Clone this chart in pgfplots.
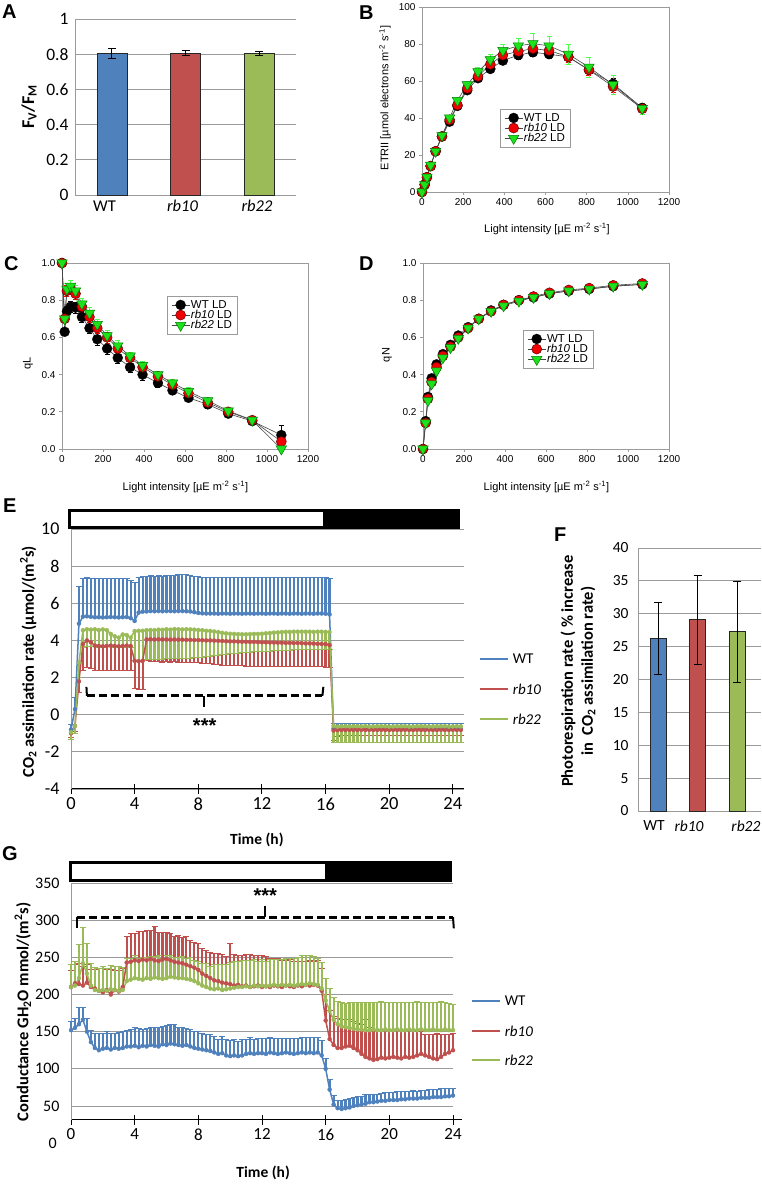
\documentclass[border=0pt]{standalone}
\usepackage{fontspec}
\setmainfont{Carlito}
\newfontfamily\arial{Liberation Sans}
\usepackage{pgfplots}
\usepackage{pgfplotstable}
\pgfplotsset{compat=1.18}

\definecolor{xblue}{RGB}{79,129,189}
\definecolor{xred}{RGB}{192,80,77}
\definecolor{xgreen}{RGB}{155,187,89}
\definecolor{ggray}{RGB}{155,155,155}
\definecolor{spred}{RGB}{240,0,0}
\definecolor{spgreen}{RGB}{30,225,30}
\definecolor{spline}{RGB}{70,70,70}

\newcommand{\fs}[1]{\fontsize{#1}{#1}\selectfont}

\pgfplotsset{
  excel/.style={scale only axis, axis x line*=bottom, axis y line*=left,
    axis line style={draw=ggray, line width=0.9pt},
    major tick length=0pt,
    ymajorgrids, grid style={draw=ggray, line width=0.9pt},
    /pgf/number format/assume math mode=true,
    clip=false},
  ebar/.style={error bars/.cd, y dir=both, y explicit,
    error bar style={black, line width=0.8pt},
    error mark options={rotate=90, mark size=4pt, black, line width=0.8pt}},
  sp/.style={scale only axis, xmin=0, xmax=1200, xtick={0,200,...,1200},
    axis line style={draw=ggray, line width=0.8pt},
    tick style={draw=ggray, line width=0.6pt}, tick align=outside, major tick length=3pt,
    xtick pos=left, ytick pos=left,
    tick label style={font=\arial\fs{10}},
    label style={font=\arial\fs{11}},
    /pgf/number format/assume math mode=true,
    /pgf/number format/1000 sep={},
    legend cell align=left,
    legend image code/.code={\draw[mark repeat=2,mark phase=2,##1] plot coordinates {(0pt,0pt) (9pt,0pt) (18pt,0pt)};},
    legend style={draw=ggray, line width=0.6pt, font=\arial\fs{11.5}, anchor=north west, inner xsep=4pt, inner ysep=3pt, row sep=-1.5pt, nodes={inner sep=1pt}},
    clip=false},
  spwt/.style={draw=spline, line width=0.6pt, mark=*, mark size=5pt, mark options={fill=black, draw=black, line width=0.3pt}},
  spr/.style={draw=spline, line width=0.6pt, mark=*, mark size=5pt, mark options={fill=spred, draw=black!60!red, line width=0.5pt}},
  spg/.style={draw=spline, line width=0.6pt, mark=triangle*, mark size=6pt, mark options={fill=spgreen, draw=black!50!green, line width=0.5pt, rotate=180}},
  speb/.style={error bars/.cd, y dir=both, y explicit, error bar style={#1, line width=0.5pt}, error mark options={rotate=90, mark size=2.5pt, #1, line width=0.5pt}},
}

\pgfplotstableread{
x wt wte r10 r10e r22 r22e
0 0 0.5 0 0.5 0 0.5
13 4 0.6 4 0.6 4 0.6
24 8 0.8 8 0.8 8 0.8
42 14 1 14 1 14.5 1
66 22 1 22 1 22 1.2
97 30 1.2 30 1.2 30.5 1.3
134 38 1.3 39 1.5 40 1.5
172 46.5 1.5 47 1.5 49.5 1.8
220 55 1.5 56 1.8 58 2
272 61.5 1.8 62.5 2 65 2.5
332 66.5 2 69 2.5 71.5 3
393 71 2 74 2.5 76.5 3.5
468 74 2 76 3 79 4
539 75.5 2 77.5 3 80.2 5.5
617 74.5 2 76.5 3 79 5
711 73 2 73 3 74.5 5.3
811 66 2 66 3 67.5 5.4
928 58.5 3 57 3 58 5.3
1070 45.5 2 45 2 45.2 3
}\Bdata

\pgfplotstableread{
x wt wte r10 r10e r22 r22e
0 1.0 0.01 1.0 0.01 1.0 0.01
13 0.63 0.02 0.70 0.02 0.70 0.02
24 0.74 0.03 0.85 0.03 0.86 0.03
42 0.765 0.03 0.86 0.03 0.875 0.03
66 0.76 0.03 0.835 0.03 0.85 0.03
97 0.71 0.03 0.765 0.03 0.78 0.03
134 0.65 0.03 0.71 0.03 0.73 0.03
172 0.59 0.03 0.65 0.03 0.67 0.03
220 0.54 0.03 0.60 0.03 0.61 0.03
272 0.49 0.03 0.54 0.03 0.555 0.03
332 0.44 0.03 0.49 0.03 0.50 0.02
393 0.40 0.03 0.44 0.02 0.45 0.02
468 0.355 0.025 0.39 0.02 0.40 0.02
539 0.315 0.02 0.345 0.02 0.355 0.02
617 0.275 0.02 0.30 0.02 0.31 0.02
711 0.24 0.02 0.25 0.02 0.26 0.015
811 0.19 0.015 0.20 0.015 0.205 0.01
928 0.15 0.01 0.155 0.01 0.155 0.01
1070 0.075 0.05 0.04 0.03 0.0 0.01
}\Cdata

\pgfplotstableread{
x wt wte r10 r10e r22 r22e
0 0 0.005 0 0.005 0 0.005
13 0.15 0.01 0.14 0.01 0.14 0.01
24 0.28 0.01 0.27 0.01 0.26 0.01
42 0.38 0.01 0.36 0.01 0.35 0.01
66 0.455 0.01 0.44 0.01 0.42 0.01
97 0.51 0.01 0.50 0.01 0.49 0.01
134 0.56 0.01 0.55 0.01 0.545 0.01
172 0.61 0.01 0.60 0.01 0.595 0.01
220 0.655 0.01 0.65 0.01 0.65 0.01
272 0.70 0.01 0.70 0.01 0.70 0.01
332 0.745 0.01 0.74 0.01 0.74 0.01
393 0.775 0.01 0.775 0.01 0.77 0.01
468 0.80 0.01 0.80 0.01 0.795 0.01
539 0.815 0.01 0.82 0.01 0.815 0.01
617 0.835 0.01 0.84 0.01 0.835 0.01
711 0.85 0.01 0.855 0.01 0.85 0.01
811 0.86 0.01 0.865 0.01 0.86 0.01
928 0.875 0.01 0.88 0.01 0.875 0.01
1070 0.885 0.01 0.89 0.01 0.885 0.01
}\Ddata

\pgfplotstableread{
t wt wte r10 r10e r22 r22e
0.00 -0.80 0.25 -1.00 0.25 -0.95 0.40
0.25 0.30 0.60 -0.60 0.30 -0.60 0.40
0.50 4.90 2.00 1.80 0.60 2.80 0.80
0.75 5.28 2.05 3.80 1.40 4.55 0.95
1.00 5.30 2.10 4.00 1.45 4.60 0.95
1.25 5.27 2.08 3.90 1.40 4.58 0.92
1.50 5.25 2.10 3.72 1.32 4.60 0.95
1.75 5.25 2.08 3.70 1.30 4.56 0.92
2.00 5.24 2.10 3.68 1.28 4.59 0.95
2.25 5.25 2.06 3.70 1.30 4.55 0.90
2.50 5.26 2.05 3.72 1.32 4.35 0.70
2.75 5.25 2.08 3.70 1.30 4.22 0.60
3.00 5.24 2.10 3.68 1.30 4.15 0.55
3.25 5.25 2.08 3.70 1.32 4.32 0.70
3.50 5.26 2.06 3.72 1.32 4.29 0.65
3.75 5.20 2.05 3.70 1.30 4.15 0.55
4.00 5.05 2.05 2.90 1.50 4.50 1.60
4.25 5.50 1.90 2.88 1.52 4.52 1.62
4.50 5.55 1.90 2.90 1.55 4.52 1.60
4.75 5.56 1.90 4.05 1.15 4.55 1.60
5.00 5.58 1.90 4.06 1.18 4.56 1.60
5.25 5.57 1.88 4.05 1.20 4.55 1.58
5.50 5.58 1.90 4.06 1.20 4.58 1.60
5.75 5.57 1.89 4.05 1.22 4.57 1.58
6.00 5.58 1.90 4.05 1.20 4.60 1.60
6.25 5.58 1.92 4.04 1.22 4.58 1.58
6.50 5.57 1.95 4.05 1.20 4.61 1.60
6.75 5.58 1.97 4.04 1.22 4.60 1.58
7.00 5.58 1.98 4.04 1.22 4.59 1.57
7.25 5.57 1.96 4.03 1.20 4.60 1.57
7.50 5.56 1.93 4.03 1.22 4.59 1.55
7.75 5.52 1.92 4.02 1.22 4.58 1.52
8.00 5.48 1.94 4.02 1.22 4.56 1.48
8.25 5.46 1.94 4.01 1.24 4.55 1.45
8.50 5.45 1.95 4.00 1.25 4.52 1.40
8.75 5.45 1.94 4.00 1.26 4.51 1.36
9.00 5.45 1.95 3.99 1.28 4.48 1.30
9.25 5.44 1.95 3.98 1.28 4.45 1.25
9.50 5.45 1.94 3.97 1.30 4.41 1.18
9.75 5.45 1.95 3.96 1.30 4.38 1.13
10.00 5.44 1.96 3.95 1.30 4.36 1.08
10.25 5.45 1.95 3.95 1.30 4.35 1.05
10.50 5.45 1.94 3.94 1.30 4.34 1.02
10.75 5.44 1.95 3.93 1.30 4.33 1.00
11.00 5.45 1.95 3.93 1.31 4.33 0.98
11.25 5.45 1.94 3.92 1.31 4.34 0.98
11.50 5.44 1.95 3.92 1.31 4.35 0.97
11.75 5.45 1.95 3.91 1.30 4.35 0.96
12.00 5.45 1.94 3.90 1.30 4.36 0.96
12.25 5.44 1.95 3.90 1.30 4.38 0.96
12.50 5.45 1.95 3.89 1.29 4.40 0.97
12.75 5.45 1.94 3.89 1.29 4.42 0.98
13.00 5.44 1.95 3.88 1.28 4.43 0.98
13.25 5.45 1.95 3.88 1.28 4.45 0.99
13.50 5.45 1.94 3.87 1.28 4.46 0.99
13.75 5.44 1.95 3.87 1.27 4.46 0.98
14.00 5.45 1.95 3.86 1.27 4.47 0.98
14.25 5.45 1.94 3.86 1.27 4.47 0.97
14.50 5.44 1.95 3.85 1.26 4.47 0.97
14.75 5.45 1.95 3.84 1.26 4.47 0.96
15.00 5.45 1.94 3.84 1.26 4.47 0.96
15.25 5.44 1.95 3.83 1.25 4.46 0.95
15.50 5.45 1.95 3.82 1.25 4.47 0.95
15.75 5.45 1.94 3.81 1.24 4.47 0.95
16.00 5.44 1.95 3.80 1.24 4.46 0.94
16.25 5.40 1.95 3.75 1.20 4.45 0.95
16.50 -0.74 0.28 -0.85 0.55 -0.60 0.88
16.75 -0.76 0.27 -0.83 0.32 -0.64 0.86
17.00 -0.75 0.28 -0.82 0.30 -0.62 0.90
17.25 -0.76 0.27 -0.82 0.30 -0.62 0.88
17.50 -0.75 0.28 -0.81 0.30 -0.63 0.86
17.75 -0.74 0.27 -0.82 0.30 -0.62 0.89
18.00 -0.75 0.28 -0.82 0.30 -0.62 0.88
18.25 -0.76 0.28 -0.81 0.30 -0.63 0.87
18.50 -0.75 0.27 -0.82 0.30 -0.61 0.88
18.75 -0.74 0.28 -0.81 0.30 -0.64 0.86
19.00 -0.75 0.28 -0.82 0.30 -0.63 0.88
19.25 -0.76 0.27 -0.82 0.30 -0.62 0.88
19.50 -0.75 0.28 -0.81 0.30 -0.62 0.87
19.75 -0.75 0.28 -0.82 0.30 -0.62 0.88
20.00 -0.74 0.27 -0.82 0.30 -0.64 0.86
20.25 -0.75 0.28 -0.81 0.30 -0.63 0.88
20.50 -0.76 0.28 -0.82 0.30 -0.62 0.88
20.75 -0.75 0.27 -0.82 0.30 -0.62 0.87
21.00 -0.75 0.28 -0.81 0.30 -0.62 0.88
21.25 -0.74 0.28 -0.82 0.30 -0.64 0.86
21.50 -0.75 0.27 -0.82 0.30 -0.63 0.88
21.75 -0.76 0.28 -0.81 0.30 -0.62 0.88
22.00 -0.75 0.28 -0.82 0.30 -0.62 0.87
22.25 -0.75 0.27 -0.82 0.30 -0.62 0.88
22.50 -0.74 0.28 -0.81 0.30 -0.64 0.86
22.75 -0.75 0.28 -0.82 0.30 -0.63 0.88
23.00 -0.76 0.27 -0.82 0.30 -0.62 0.88
23.25 -0.75 0.28 -0.81 0.30 -0.62 0.87
23.50 -0.75 0.28 -0.82 0.30 -0.62 0.88
23.75 -0.74 0.27 -0.82 0.30 -0.64 0.86
24.00 -0.75 0.28 -0.81 0.30 -0.63 0.88
24.25 -0.75 0.28 -0.82 0.30 -0.62 0.88
24.50 -0.76 0.27 -0.82 0.30 -0.63 0.87
}\Edata

\pgfplotstableread{
t wt wte r10 r10e r22 r22e
0.00 152 12 210 22 210 30
0.25 155 13 215 25 212 32
0.50 160 22 214 28 222 45
0.75 166 16 212 26 242 48
1.00 150 18 216 25 228 40
1.25 136 16 210 24 212 30
1.50 128 20 208 26 206 30
1.75 125 22 205 30 205 30
2.00 127 20 203 32 206 32
2.25 128 22 206 28 205 30
2.50 126 21 200 34 207 32
2.75 128 20 206 26 206 31
3.00 127 22 204 28 205 33
3.25 128 22 210 25 206 30
3.50 130 22 243 35 218 30
3.75 130 23 244 38 220 28
4.00 131 24 246 36 222 30
4.25 129 25 245 40 221 28
4.50 131 22 247 38 220 30
4.75 130 24 246 40 222 28
5.00 132 23 248 38 221 30
5.25 131 24 246 45 223 28
5.50 130 25 245 38 222 30
5.75 133 24 247 36 221 28
6.00 132 26 248 35 222 30
6.25 134 25 246 36 224 28
6.50 133 26 244 34 223 27
6.75 132 24 243 36 222 28
7.00 131 25 242 34 222 29
7.25 132 22 240 38 221 28
7.50 130 23 238 35 220 30
7.75 128 22 236 34 218 28
8.00 127 23 233 35 215 30
8.25 126 22 228 34 212 30
8.50 125 21 225 34 210 32
8.75 124 22 222 35 208 30
9.00 122 22 219 36 207 33
9.25 120 20 218 37 208 32
9.50 121 22 216 38 206 34
9.75 118 22 215 36 207 33
10.00 117 21 214 55 208 35
10.25 118 22 212 42 209 36
10.50 117 20 213 40 210 35
10.75 118 21 211 42 210 36
11.00 120 20 212 42 211 35
11.25 121 21 210 44 210 36
11.50 120 20 211 42 212 35
11.75 121 20 212 40 211 34
12.00 121 20 210 42 212 35
12.25 120 21 211 40 211 34
12.50 122 20 210 38 212 35
12.75 121 20 212 36 213 34
13.00 120 21 211 38 212 35
13.25 121 20 210 36 213 34
13.50 122 19 212 34 212 36
13.75 121 20 211 36 213 35
14.00 120 21 210 34 212 36
14.25 121 20 212 32 213 37
14.50 122 20 211 33 214 38
14.75 121 21 213 32 213 40
15.00 122 20 212 34 215 38
15.25 121 21 213 32 214 37
15.50 122 20 212 34 213 36
15.75 118 20 205 30 208 35
16.00 100 14 165 35 192 30
16.25 72 14 140 38 178 30
16.50 52 12 132 38 166 30
16.75 47 10 128 40 160 30
17.00 46 11 128 38 157 32
17.25 47 12 130 36 156 32
17.50 48 12 131 35 155 34
17.75 50 11 128 36 154 35
18.00 51 12 125 36 153 36
18.25 52 11 120 40 153 36
18.50 53 12 116 50 152 37
18.75 55 10 114 42 152 37
19.00 55 11 112 40 153 36
19.25 56 10 113 38 152 37
19.50 57 10 115 38 152 38
19.75 57 11 114 37 153 36
20.00 58 10 115 38 152 37
20.25 58 10 116 36 152 37
20.50 58 11 115 38 153 36
20.75 59 10 114 37 152 37
21.00 59 10 116 36 152 37
21.25 60 10 115 37 153 36
21.50 60 11 116 36 152 37
21.75 60 10 118 32 152 38
22.00 61 10 120 30 153 36
22.25 61 10 118 28 152 37
22.50 61 11 116 30 152 37
22.75 62 10 114 32 153 36
23.00 62 10 113 34 152 37
23.25 62 11 116 30 152 38
23.50 63 10 120 26 153 36
23.75 63 10 122 24 152 36
24.00 64 10 125 22 152 35
}\Gdata

\begin{document}
\begin{tikzpicture}[x=1pt,y=1pt]
\useasboundingbox (0,0) rectangle (762,1184);

% panel letters
\begin{scope}[every node/.style={anchor=base west, inner sep=0pt, font=\arial\bfseries\fs{20}}]
\node at (2,1165) {A};
\node at (359,1164) {B};
\node at (4,913) {C};
\node at (359,913) {D};
\node at (3,671) {E};
\node at (554,642) {F};
\node at (2,323) {G};
\end{scope}

% ---------------- A ----------------
\begin{axis}[excel, at={(75pt,989pt)}, anchor=south west, width=221pt, height=176pt,
  xmin=-0.5, xmax=2.5, ymin=0, ymax=1, ytick={0,0.2,0.4,0.6,0.8,1},
  xtick={-0.1,0.96,1.97}, xticklabels={WT,\textit{rb10},\textit{rb22}},
  yticklabel style={font=\fs{17.5}, xshift=-3pt},
  xticklabel style={font=\fs{16.5}, yshift=-2pt},
  ylabel={\textbf{F\textsubscript{V}/F\textsubscript{M}}},
  ylabel style={at={(axis description cs:-0.208,0.5)}, anchor=center, font=\fs{18}}]
\addplot[ybar, bar width=30pt, bar shift=0pt, fill=xblue, draw=black!85, line width=0.6pt, ebar] coordinates {(0,0.805) +- (0,0.03)};
\addplot[ybar, bar width=30pt, bar shift=0pt, fill=xred, draw=black!85, line width=0.6pt, ebar] coordinates {(1,0.805) +- (0,0.014)};
\addplot[ybar, bar width=30pt, bar shift=0pt, fill=xgreen, draw=black!85, line width=0.6pt, ebar] coordinates {(2,0.805) +- (0,0.011)};
\end{axis}

% ---------------- B ----------------
\begin{axis}[sp, at={(422pt,992pt)}, anchor=south west, width=247pt, height=185pt,
  ymin=0, ymax=100, ytick={0,20,...,100},
  xlabel={Light intensity [µE m\textsuperscript{-2} s\textsuperscript{-1}]},
  ylabel={ETRII [µmol electrons m\textsuperscript{-2} s\textsuperscript{-1}]},
  xlabel style={at={(axis description cs:0.506,-0.2)}, anchor=center},
  ylabel style={at={(axis description cs:-0.15,0.508)}, anchor=center},
  legend style={at={(axis description cs:0.316,0.449)}}]
\addplot[spwt, speb=black] table[x=x, y=wt, y error=wte]{\Bdata};
\addlegendentry{WT LD}
\addplot[spr, speb=red] table[x=x, y=r10, y error=r10e]{\Bdata};
\addlegendentry{\textit{rb10} LD}
\addplot[spg, speb=green!70!white] table[x=x, y=r22, y error=r22e]{\Bdata};
\addlegendentry{\textit{rb22} LD}
\end{axis}

% ---------------- C ----------------
\begin{axis}[sp, at={(62pt,735pt)}, anchor=south west, width=246pt, height=186pt,
  ymin=0, ymax=1, ytick={0,0.2,0.4,0.6,0.8,1.0},
  yticklabel style={/pgf/number format/.cd, fixed, fixed zerofill, precision=1},
  xlabel={Light intensity [µE m\textsuperscript{-2} s\textsuperscript{-1}]},
  ylabel={qL},
  xlabel style={at={(axis description cs:0.502,-0.204)}, anchor=center},
  ylabel style={at={(axis description cs:-0.138,0.46)}, anchor=center},
  legend style={at={(axis description cs:0.427,0.823)}}]
\addplot[spwt, speb=black] table[x=x, y=wt, y error=wte]{\Cdata};
\addlegendentry{WT LD}
\addplot[spr, speb=red] table[x=x, y=r10, y error=r10e]{\Cdata};
\addlegendentry{\textit{rb10} LD}
\addplot[spg, speb=green!70!white] table[x=x, y=r22, y error=r22e]{\Cdata};
\addlegendentry{\textit{rb22} LD}
\end{axis}

% ---------------- D ----------------
\begin{axis}[sp, at={(423pt,735pt)}, anchor=south west, width=246pt, height=186pt,
  ymin=0, ymax=1, ytick={0,0.2,0.4,0.6,0.8,1.0},
  yticklabel style={/pgf/number format/.cd, fixed, fixed zerofill, precision=1},
  xlabel={Light intensity [µE m\textsuperscript{-2} s\textsuperscript{-1}]},
  ylabel={qN},
  xlabel style={at={(axis description cs:0.502,-0.204)}, anchor=center},
  ylabel style={at={(axis description cs:-0.146,0.505)}, anchor=center},
  legend style={at={(axis description cs:0.407,0.64)}}]
\addplot[spwt, speb=black] table[x=x, y=wt, y error=wte]{\Ddata};
\addlegendentry{WT LD}
\addplot[spr, speb=red] table[x=x, y=r10, y error=r10e]{\Ddata};
\addlegendentry{\textit{rb10} LD}
\addplot[spg, speb=green!70!white] table[x=x, y=r22, y error=r22e]{\Ddata};
\addlegendentry{\textit{rb22} LD}
\end{axis}

% ---------------- E ----------------
\begin{axis}[excel, at={(71pt,395pt)}, anchor=south west, width=393pt, height=260pt,
  xmin=0, xmax=24.7, ymin=-4, ymax=10,
  xtick={0,4,...,24}, ytick={-4,-2,...,10},
  x axis line style={draw=black, line width=1pt},
  xtick style={draw=black, line width=1pt}, xtick align=center, major tick length=10pt,
  ytick style={draw=none},
  yticklabel style={font=\fs{18}, xshift=-8pt},
  xticklabel style={font=\fs{18.5}},
  ylabel={\textbf{CO\textsubscript{2} assimilation rate (µmol/(m\textsuperscript{2}s)}},
  ylabel style={at={(axis description cs:-0.109,0.49)}, anchor=center, font=\fs{16.5}},
  xlabel={\textbf{Time (h)}},
  xlabel style={at={(axis description cs:0.473,-0.196)}, anchor=center, font=\fs{15.5}}]
\addplot[forget plot, only marks, mark=none, color=xblue, error bars/.cd, y dir=plus, y explicit, error bar style={xblue, line width=2.2pt}, error mark options={rotate=90, xblue, mark size=3pt, line width=1pt}] table[x=t, y=wt, y error=wte]{\Edata};
\addplot[forget plot, only marks, mark=none, color=xred, error bars/.cd, y dir=minus, y explicit, error bar style={xred, line width=2.2pt}, error mark options={rotate=90, xred, mark size=3pt, line width=1pt}] table[x=t, y=r10, y error=r10e]{\Edata};
\addplot[forget plot, only marks, mark=none, color=xgreen, error bars/.cd, y dir=minus, y explicit, error bar style={xgreen, line width=2.2pt}, error mark options={rotate=90, xgreen, mark size=3pt, line width=1pt}] table[x=t, y=r22, y error=r22e]{\Edata};
\addplot[forget plot, xblue, line width=1.5pt, no marks] table[x=t, y=wt]{\Edata};
\addplot[forget plot, xred, line width=1.5pt, no marks] table[x=t, y=r10]{\Edata};
\addplot[forget plot, xgreen, line width=1.5pt, no marks] table[x=t, y=r22]{\Edata};
% legend
\draw[xblue, line width=1.5pt] (axis description cs:1.041,0.5) -- ++(28pt,0pt) node[right=4pt, inner sep=0pt, text=black, font=\fs{15}] {WT};
\draw[xred, line width=1.5pt] (axis description cs:1.041,0.385) -- ++(28pt,0pt) node[right=4pt, inner sep=0pt, text=black, font=\fs{15}] {\textit{rb10}};
\draw[xgreen, line width=1.5pt] (axis description cs:1.041,0.269) -- ++(28pt,0pt) node[right=4pt, inner sep=0pt, text=black, font=\fs{15}] {\textit{rb22}};
% light/dark bar
\filldraw[fill=white, draw=black, line width=3pt] (axis cs:-0.09,10.08) rectangle (axis cs:24.34,11.0);
\fill[black] (axis cs:15.85,10.08) rectangle (axis cs:24.34,11.0);
% significance bracket
\draw[black, line width=2.8pt, dash pattern=on 8pt off 4pt] (axis cs:1.0,1.02) -- (axis cs:15.8,1.02);
\draw[black, line width=2pt] (axis cs:1.0,1.02) -- (axis cs:0.97,1.5);
\draw[black, line width=2pt] (axis cs:15.8,1.02) -- (axis cs:15.86,1.5);
\draw[black, line width=2.4pt] (axis cs:8.35,1.02) -- (axis cs:8.35,0.42);
\node[anchor=base, font=\arial\bfseries\fs{20}, inner sep=0pt] at (axis cs:8.4,-0.95) {***};
\end{axis}

% ---------------- F ----------------
\begin{axis}[excel, at={(638pt,373pt)}, anchor=south west, width=123pt, height=263pt,
  xmin=-0.506, xmax=2.6, ymin=0, ymax=40, ytick={0,5,...,40},
  xtick={-0.1,0.785,2.22}, xticklabels={WT,\textit{rb10},\textit{rb22}},
  yticklabel style={font=\fs{15.5}, xshift=-6pt},
  xticklabel style={font=\fs{15.5}, yshift=-6pt},
  ylabel={\textbf{Photorespiration rate ( \% increase}\\\textbf{in\ \ CO\textsubscript{2} assimilation rate)}},
  ylabel style={at={(axis description cs:-0.488,0.532)}, anchor=center, align=center, font=\fontsize{16.5}{20}\selectfont}]
\addplot[ybar, bar width=16pt, bar shift=0pt, fill=xblue, draw=black!85, line width=0.6pt, ebar] coordinates {(0,26.3) += (0,5.5) -= (0,5.5)};
\addplot[ybar, bar width=16pt, bar shift=0pt, fill=xred, draw=black!85, line width=0.6pt, ebar] coordinates {(1,29.1) += (0,6.7) -= (0,6.8)};
\addplot[ybar, bar width=16pt, bar shift=0pt, fill=xgreen, draw=black!85, line width=0.6pt, ebar] coordinates {(2,27.3) += (0,7.6) -= (0,7.8)};
\end{axis}

% ---------------- G ----------------
\begin{axis}[excel, at={(71pt,64pt)}, anchor=south west, width=382pt, height=237pt,
  xmin=0, xmax=24, ymin=31.1, ymax=350,
  xtick={0,4,...,24}, ytick={50,100,...,350},
  x axis line style={draw=black, line width=1pt},
  xtick style={draw=black, line width=1pt}, xtick align=center, major tick length=10pt,
  ytick style={draw=none},
  yticklabel style={font=\fs{16}, xshift=-8pt},
  xticklabel style={font=\fs{17}},
  ylabel={\textbf{Conductance GH\textsubscript{2}O mmol/(m\textsuperscript{2}s)}},
  ylabel style={at={(axis description cs:-0.126,0.456)}, anchor=center, font=\fs{16.5}},
  xlabel={\textbf{Time (h)}},
  xlabel style={at={(axis description cs:0.503,-0.224)}, anchor=center, font=\fs{15.5}}]
\addplot[forget plot, only marks, mark=none, color=xblue, error bars/.cd, y dir=plus, y explicit, error bar style={xblue, line width=2.2pt}, error mark options={rotate=90, xblue, mark size=3pt, line width=1pt}] table[x=t, y=wt, y error=wte]{\Gdata};
\addplot[forget plot, only marks, mark=none, color=xred, error bars/.cd, y dir=plus, y explicit, error bar style={xred, line width=2.2pt}, error mark options={rotate=90, xred, mark size=3pt, line width=1pt}] table[x=t, y=r10, y error=r10e]{\Gdata};
\addplot[forget plot, only marks, mark=none, color=xgreen, error bars/.cd, y dir=plus, y explicit, error bar style={xgreen, line width=2.2pt}, error mark options={rotate=90, xgreen, mark size=3pt, line width=1pt}] table[x=t, y=r22, y error=r22e]{\Gdata};
\addplot[forget plot, xblue, line width=1.5pt, no marks] table[x=t, y=wt]{\Gdata};
\addplot[forget plot, xred, line width=1.5pt, no marks] table[x=t, y=r10]{\Gdata};
\addplot[forget plot, xgreen, line width=1.5pt, no marks] table[x=t, y=r22]{\Gdata};
% legend
\draw[xblue, line width=1.5pt] (axis description cs:1.05,0.502) -- ++(28pt,0pt) node[right=4pt, inner sep=0pt, text=black, font=\fs{15}] {WT};
\draw[xred, line width=1.5pt] (axis description cs:1.05,0.376) -- ++(28pt,0pt) node[right=4pt, inner sep=0pt, text=black, font=\fs{15}] {\textit{rb10}};
\draw[xgreen, line width=1.5pt] (axis description cs:1.05,0.253) -- ++(28pt,0pt) node[right=4pt, inner sep=0pt, text=black, font=\fs{15}] {\textit{rb22}};
\draw[black, line width=1pt] (axis cs:24,31.1) -- ++(9pt,0pt);
\node[anchor=east, font=\fs{16}, inner sep=0pt] at ([xshift=-14pt]axis cs:0,0) {0};
% light/dark bar
\filldraw[fill=white, draw=black, line width=3pt] (axis cs:-0.03,353.4) rectangle (axis cs:23.82,377.7);
\fill[black] (axis cs:15.95,353.4) rectangle (axis cs:23.82,377.7);
% significance bracket
\draw[black, line width=2.8pt, dash pattern=on 8pt off 4pt] (axis cs:0.4,304) -- (axis cs:24.0,304);
\draw[black, line width=2pt] (axis cs:0.4,304) -- (axis cs:0.4,289);
\draw[black, line width=2pt] (axis cs:24.0,304) -- (axis cs:24.05,289);
\draw[black, line width=2.4pt] (axis cs:12.2,304) -- (axis cs:12.2,319);
\node[anchor=base, font=\arial\bfseries\fs{20}, inner sep=0pt] at (axis cs:12.2,324) {***};
\end{axis}
\end{tikzpicture}
\end{document}
